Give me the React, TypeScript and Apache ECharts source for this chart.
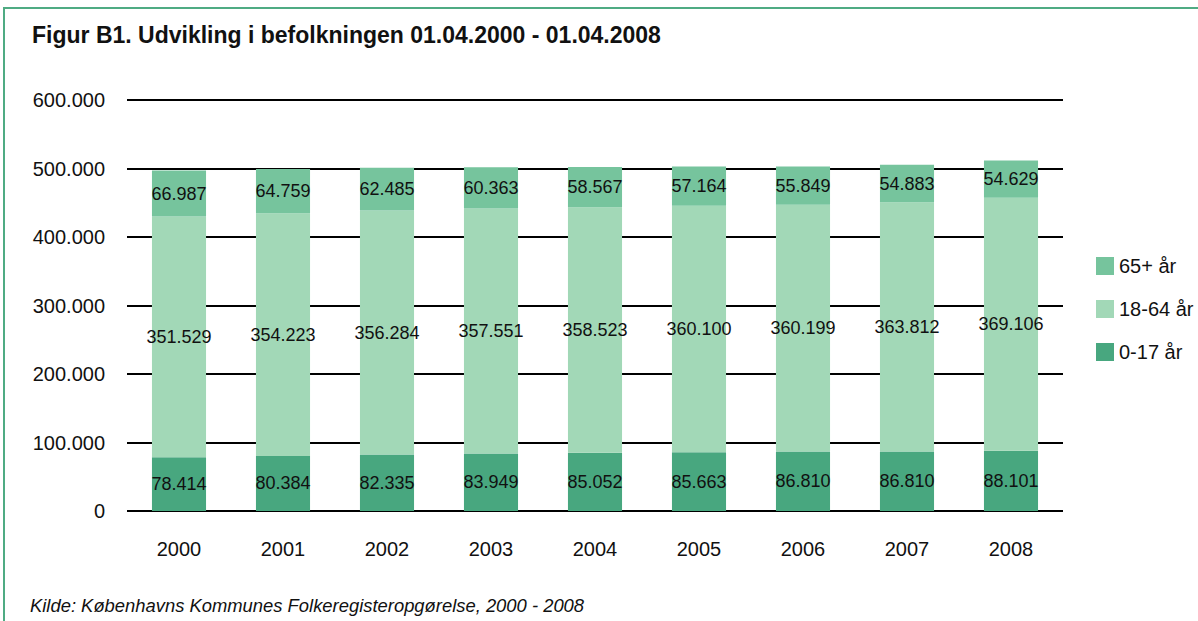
import React, { useEffect, useRef } from "react";
import * as echarts from "echarts";

const years = ["2000", "2001", "2002", "2003", "2004", "2005", "2006", "2007", "2008"];
const age0to17 = [78414, 80384, 82335, 83949, 85052, 85663, 86810, 86810, 88101];
const age18to64 = [351529, 354223, 356284, 357551, 358523, 360100, 360199, 363812, 369106];
const age65plus = [66987, 64759, 62485, 60363, 58567, 57164, 55849, 54883, 54629];
const seriesNames = ["0-17 år", "18-64 år", "65+ år"];
const legendOrder = ["65+ år", "18-64 år", "0-17 år"];
const colors = ["#48a77f", "#a2d8b7", "#76c49d"];

const fmt = (v: number) => String(v).replace(/\B(?=(\d{3})+(?!\d))/g, ".");

export default function App() {
  const ref = useRef<HTMLDivElement>(null);
  useEffect(() => {
    if (!ref.current) return;
    const chart = echarts.init(ref.current, null, { renderer: "svg" });
    const font = "Liberation Sans, Arial, sans-serif";
    const datas = [age0to17, age18to64, age65plus];
    chart.setOption({
      animation: false,
      textStyle: { fontFamily: font },
      title: {
        text: "Figur B1. Udvikling i befolkningen 01.04.2000 - 01.04.2008",
        left: 27,
        top: 18,
        textStyle: { fontFamily: font, fontSize: 23, fontWeight: "bold", color: "#111" },
      },
      graphic: [
        {
          type: "polyline",
          shape: { points: [[4, 621], [4, 8], [1198, 8]] },
          style: { stroke: "#4fab83", lineWidth: 2, fill: "none" },
        },
        {
          type: "text",
          left: 30,
          top: 596,
          style: {
            text: "Kilde: Københavns Kommunes Folkeregisteropgørelse, 2000 - 2008",
            font: "italic 18.4px Liberation Sans, Arial, sans-serif",
            fill: "#111",
          },
        },
      ],
      legend: {
        data: legendOrder,
        orient: "vertical",
        left: 1091,
        top: 251,
        itemGap: 23,
        itemWidth: 18,
        itemHeight: 18,
        icon: "rect",
        textStyle: { fontFamily: font, fontSize: 20, color: "#111" },
      },
      grid: { left: 127, top: 100, width: 936, height: 411, containLabel: false },
      xAxis: {
        type: "category",
        data: years,
        axisLine: { show: false },
        axisTick: { show: false },
        axisLabel: { fontFamily: font, fontSize: 20, color: "#111", margin: 28 },
      },
      yAxis: {
        type: "value",
        min: 0,
        max: 600000,
        interval: 100000,
        axisLine: { show: false },
        axisTick: { show: false },
        splitLine: { lineStyle: { color: "#000", width: 1.8 } },
        axisLabel: {
          fontFamily: font,
          fontSize: 20,
          color: "#111",
          margin: 22,
          formatter: (v: number) => fmt(v),
        },
      },
      series: seriesNames.map((name, i) => ({
        name,
        type: "bar",
        stack: "total",
        barWidth: "52%",
        data: datas[i],
        itemStyle: { color: colors[i] },
        label: {
          show: true,
          position: "inside",
          fontFamily: font,
          fontSize: 18,
          color: "#111",
          formatter: (p: any) => fmt(p.value),
        },
      })),
    });
    return () => chart.dispose();
  }, []);
  return (
    <div
      ref={ref}
      style={{ position: "fixed", left: 0, top: 0, width: 1198, height: 621, background: "#fff" }}
    />
  );
}
